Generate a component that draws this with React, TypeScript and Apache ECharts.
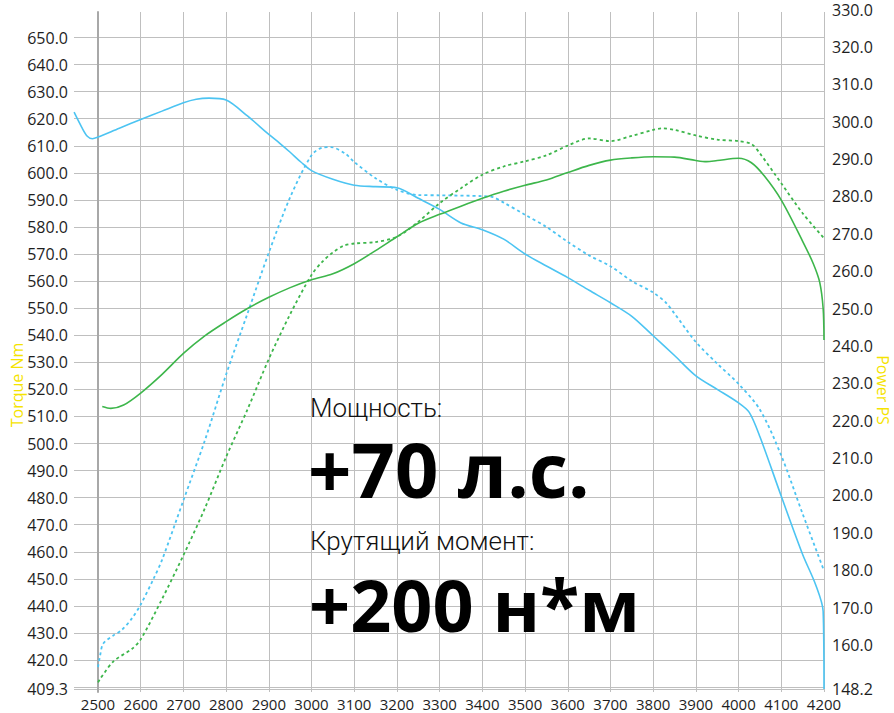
import React, { useEffect, useRef } from "react";
import * as echarts from "echarts";

// ---- axis ticks ----
const rpmMin = 2500;
const rpmMax = 4200;
const torqueTicks = [409.3, 420, 430, 440, 450, 460, 470, 480, 490, 500, 510, 520, 530, 540, 550, 560, 570, 580, 590, 600, 610, 620, 630, 640, 650];
const powerTicks = [148.2, 160, 170, 180, 190, 200, 210, 220, 230, 240, 250, 260, 270, 280, 290, 300, 310, 320, 330];

// ---- series (rpm, value) ----
const torqueSolid: [number, number][] = [
  [2444, 622.4], [2462, 616.8], [2475, 613.5], [2487, 612.6], [2500, 613.2], [2550, 616.5], [2600, 619.7],
  [2650, 622.8], [2700, 625.9], [2730, 627.2], [2760, 627.6], [2800, 626.9], [2850, 621.0], [2900, 614.2],
  [2925, 611.0], [2950, 607.6], [2975, 604.0], [3000, 600.8], [3050, 597.6], [3100, 595.4], [3150, 594.9],
  [3200, 594.5], [3250, 590.6], [3300, 586.5], [3350, 581.5], [3400, 579.0], [3450, 575.5], [3500, 570.0],
  [3550, 565.6], [3600, 561.3], [3650, 556.6], [3700, 552.0], [3750, 547.0], [3800, 539.8], [3850, 532.5],
  [3900, 525.0], [3950, 520.0], [4000, 515.0], [4025, 511.5], [4050, 502.5], [4100, 480.5], [4150, 459.0],
  [4180, 448.0], [4198, 438.0], [4200, 409.3],
];
const torqueDotted: [number, number][] = [
  [2500, 417.4], [2505, 421.7], [2512, 426.0], [2535, 429.0], [2555, 431.0], [2580, 435.5], [2600, 440.5],
  [2630, 450.0], [2650, 457.0], [2700, 479.0], [2750, 501.0], [2800, 525.5], [2850, 548.0], [2900, 570.5],
  [2950, 591.0], [3000, 606.5], [3025, 609.3], [3045, 609.5], [3080, 607.0], [3100, 604.0], [3150, 598.0],
  [3200, 593.7], [3250, 591.8], [3300, 591.7], [3400, 591.4], [3425, 591.0], [3450, 589.0], [3500, 584.5],
  [3550, 580.0], [3600, 574.5], [3650, 569.5], [3700, 565.5], [3750, 560.0], [3800, 555.8], [3830, 552.0],
  [3850, 548.0], [3900, 537.5], [3950, 529.5], [4000, 522.0], [4050, 512.5], [4100, 495.5], [4150, 474.0],
  [4200, 453.0],
];
const powerSolid: [number, number][] = [
  [2510, 223.8], [2530, 223.3], [2560, 224.2], [2600, 227.4], [2650, 232.4], [2700, 238.0], [2750, 242.7],
  [2800, 246.5], [2850, 250.0], [2900, 253.0], [2950, 255.6], [3000, 257.7], [3050, 259.3], [3100, 262.0],
  [3150, 265.5], [3200, 269.2], [3250, 272.8], [3300, 275.2], [3350, 277.4], [3400, 279.5], [3450, 281.4],
  [3500, 283.0], [3550, 284.4], [3600, 286.4], [3650, 288.3], [3700, 289.7], [3750, 290.3], [3800, 290.6],
  [3850, 290.5], [3900, 289.6], [3925, 289.3], [3950, 289.6], [4000, 290.2], [4030, 289.0], [4060, 285.5],
  [4100, 279.0], [4150, 268.0], [4175, 262.0], [4190, 257.0], [4198, 250.0], [4200, 241.6],
];
const powerDotted: [number, number][] = [
  [2500, 150.0], [2535, 155.5], [2580, 159.0], [2600, 161.5], [2650, 172.3], [2700, 184.0], [2750, 196.5],
  [2800, 210.3], [2850, 223.0], [2900, 236.5], [2950, 248.5], [3000, 259.0], [3025, 262.5], [3050, 265.0],
  [3075, 266.8], [3100, 267.4], [3150, 267.8], [3200, 269.2], [3250, 273.2], [3300, 278.2], [3350, 282.2],
  [3400, 285.8], [3450, 288.0], [3500, 289.4], [3550, 291.0], [3600, 293.6], [3650, 295.5], [3700, 294.8],
  [3750, 296.2], [3800, 297.8], [3820, 298.2], [3850, 297.8], [3900, 296.3], [3950, 295.2], [4000, 294.8],
  [4030, 294.0], [4050, 291.5], [4100, 283.5], [4150, 275.5], [4200, 268.8],
];

const BLUE = "#4cc4f2";
const GREEN = "#3db64b";
const GRID = "#bfbfbf";
const LABEL = "#1e1e1e";
const FONT = "Open Sans";
// px per rpm on the shared x scale (2500 at x=98, 4200 at x=824)
const PX_PER_RPM = (824 - 98) / (rpmMax - rpmMin);
const TORQUE_GRID_LEFT = 74;
const torqueXMin = rpmMin - (98 - TORQUE_GRID_LEFT) / PX_PER_RPM;

export default function App() {
  const ref = useRef<HTMLDivElement>(null);
  useEffect(() => {
    if (!ref.current) return;
    const chart = echarts.init(ref.current, undefined, { renderer: "svg" });
    const fmt = (v: number) => Number(v).toFixed(1);
    chart.setOption({
      animation: false,
      backgroundColor: "#ffffff",
      textStyle: { fontFamily: FONT },
      grid: [
        { left: TORQUE_GRID_LEFT, right: 70, top: 37.5, bottom: 24 },
        { left: 98, right: 70, top: 9.5, bottom: 23.9 },
        { left: 98, right: 70, top: 12, bottom: 21 },
      ],
      xAxis: [
        { type: "value", gridIndex: 0, min: torqueXMin, max: rpmMax, show: false },
        { type: "value", gridIndex: 1, min: rpmMin, max: rpmMax, show: false },
        {
          type: "value", gridIndex: 2, min: rpmMin, max: rpmMax, interval: 100,
          axisLine: { show: false },
          axisTick: { show: false },
          splitLine: { show: true, lineStyle: { color: GRID, width: 1 } },
          axisLabel: {
            color: LABEL, fontSize: 15, lineHeight: 13, fontFamily: FONT, margin: 5,
            formatter: (v: number) => String(v),
          },
        },
      ],
      yAxis: [
        {
          type: "value", gridIndex: 0, position: "left", min: 409.3, max: 650, splitNumber: 24,
          axisLine: { show: false },
          axisTick: { show: false },
          splitLine: { show: true, lineStyle: { color: GRID, width: 1 } },
          axisLabel: {
            customValues: torqueTicks, color: LABEL, fontSize: 16, lineHeight: 14, fontFamily: FONT, margin: 6,
            showMinLabel: true, showMaxLabel: true, formatter: fmt,
          },
        },
        {
          type: "value", gridIndex: 1, position: "right", min: 148.2, max: 330, splitNumber: 18,
          axisLine: { show: false },
          axisTick: { show: false },
          splitLine: { show: false },
          axisLabel: {
            customValues: powerTicks, color: LABEL, fontSize: 16, lineHeight: 13, fontFamily: FONT, margin: 8,
            showMinLabel: true, showMaxLabel: true, formatter: fmt,
          },
        },
        {
          type: "value", gridIndex: 2, position: "left", min: 0, max: 1,
          axisLine: { show: true, lineStyle: { color: "#a8a8a8", width: 2 } },
          axisTick: { show: false },
          splitLine: { show: false },
          axisLabel: { show: false },
        },
      ],
      series: [
        {
          name: "Torque", type: "line", xAxisIndex: 0, yAxisIndex: 0, data: torqueSolid,
          showSymbol: false, symbol: "none", smooth: 0.3, clip: false, z: 5,
          lineStyle: { color: BLUE, width: 1.6 },
        },
        {
          name: "Torque tuned", type: "line", xAxisIndex: 0, yAxisIndex: 0, data: torqueDotted,
          showSymbol: false, symbol: "none", smooth: 0.3, clip: false, z: 5,
          lineStyle: { color: BLUE, width: 1.8, type: [3, 3] },
        },
        {
          name: "Power", type: "line", xAxisIndex: 1, yAxisIndex: 1, data: powerSolid,
          showSymbol: false, symbol: "none", smooth: 0.3, clip: false, z: 5,
          lineStyle: { color: GREEN, width: 1.6 },
        },
        {
          name: "Power tuned", type: "line", xAxisIndex: 1, yAxisIndex: 1, data: powerDotted,
          showSymbol: false, symbol: "none", smooth: 0.3, clip: false, z: 5,
          lineStyle: { color: GREEN, width: 1.8, type: [3, 3] },
        },
      ],
      graphic: [
        {
          type: "text", x: 17, y: 385, rotation: Math.PI / 2,
          style: { text: "Torque Nm", fill: "#f5e300", fontSize: 16, fontFamily: FONT, align: "center", verticalAlign: "middle" },
        },
        {
          type: "text", x: 883, y: 390, rotation: -Math.PI / 2,
          style: { text: "Power PS", fill: "#f5e300", fontSize: 16, fontFamily: FONT, align: "center", verticalAlign: "middle" },
        },
        {
          type: "text", x: 310, y: 408, z: 10,
          style: { text: "Мощность:", fill: "#111", fontSize: 26, lineHeight: 24, fontWeight: 300, fontFamily: "Roboto", align: "left", verticalAlign: "middle" },
        },
        {
          type: "text", x: 308, y: 468, z: 10,
          style: { text: "+70 л.с.", fill: "#000", fontSize: 76, lineHeight: 58, fontWeight: 700, fontFamily: FONT, align: "left", verticalAlign: "middle" },
        },
        {
          type: "text", x: 310, y: 541, z: 10,
          style: { text: "Крутящий момент:", fill: "#111", fontSize: 26, lineHeight: 24, fontWeight: 300, fontFamily: "Roboto", align: "left", verticalAlign: "middle" },
        },
        {
          type: "text", x: 309, y: 604, z: 10,
          style: { text: "+200 н*м", fill: "#000", fontSize: 72, lineHeight: 56, fontWeight: 700, fontFamily: FONT, align: "left", verticalAlign: "middle" },
        },
      ],
    });
    return () => chart.dispose();
  }, []);
  return <div ref={ref} style={{ position: "absolute", left: 0, top: 0, width: 894, height: 713 }} />;
}
